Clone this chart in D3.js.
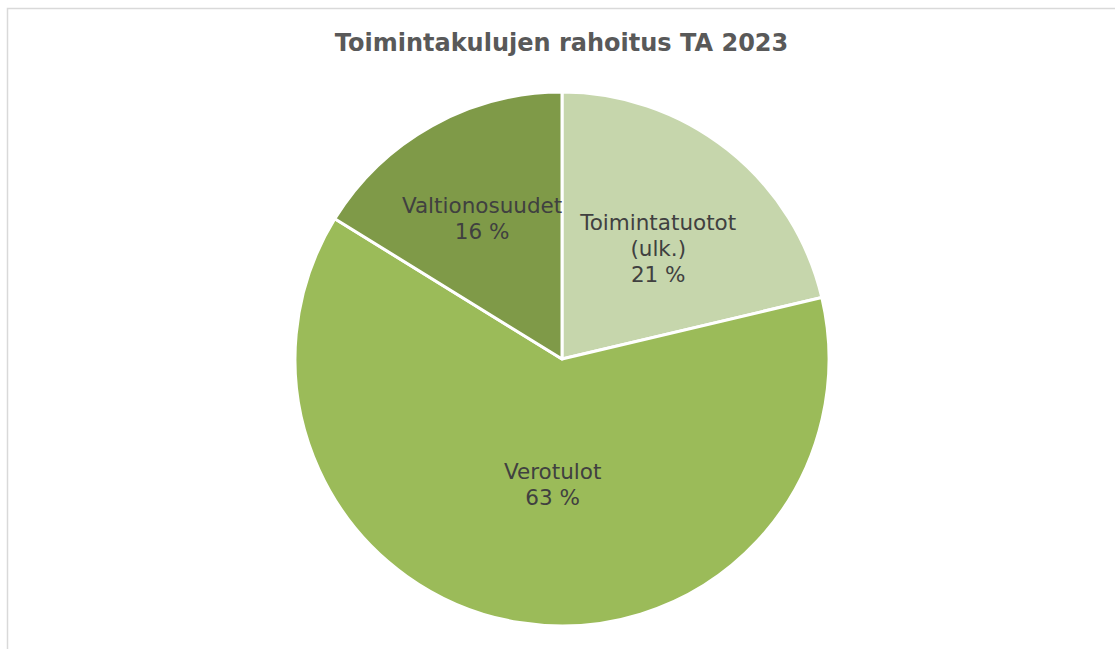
<!DOCTYPE html>
<html>
<head>
<meta charset="utf-8">
<script src="https://cdn.jsdelivr.net/npm/d3@7"></script>
<style>
  body { margin: 0; background: #fff; }
  svg { display: block; }
</style>
</head>
<body>
<div id="chart"></div>
<script>
const WIDTH = 1115;
const HEIGHT = 649;
const CX = 562;
const CY = 359;
const RADIUS = 267;

// data
const categories = ['Toimintatuotot (ulk.)', 'Verotulot', 'Valtionosuudet'];
const shares = [21.3, 62.5, 16.2];
const shareLabels = ['21 %', '63 %', '16 %'];
const labelLines = [['Toimintatuotot', '(ulk.)'], ['Verotulot'], ['Valtionosuudet']];

const colors = ['#c6d6ac', '#9bbb59', '#7f9a48'];
// label placement: share of radius, and angle nudge in degrees
const labelDist = [0.55, 0.471, 0.607];
const labelNudge = [2.6, -4.9, -0.4];

const rows = categories.map((c, i) => ({ name: c, value: shares[i], label: shareLabels[i], lines: labelLines[i], i }));

const svg = d3.select('#chart')
    .append('svg')
    .attr('width', WIDTH)
    .attr('height', HEIGHT);

// outer frame
svg.append('rect')
    .attr('x', 7.5)
    .attr('y', 8.5)
    .attr('width', WIDTH + 10)
    .attr('height', HEIGHT + 10)
    .attr('fill', 'none')
    .attr('stroke', '#d9d9d9')
    .attr('stroke-width', 1.5);

svg.append('text')
    .attr('x', 561.5)
    .attr('y', 51)
    .attr('text-anchor', 'middle')
    .attr('font-family', 'Verdana, "DejaVu Sans", sans-serif')
    .attr('font-weight', 'bold')
    .attr('font-size', 24)
    .attr('fill', '#595959')
    .text('Toimintakulujen rahoitus TA 2023');

const pie = d3.pie()
    .sort(null)
    .value(d => d.value);

const arc = d3.arc()
    .innerRadius(0)
    .outerRadius(RADIUS);

const g = svg.append('g')
    .attr('transform', `translate(${CX},${CY})`);

const arcs = pie(rows);

g.selectAll('path')
    .data(arcs)
    .enter()
    .append('path')
    .attr('d', arc)
    .attr('fill', d => colors[d.data.i])
    .attr('stroke', '#fff')
    .attr('stroke-width', 3)
    .attr('stroke-linejoin', 'round');

// labels
const FONT = 21.5;
const LINE_H = 26;
arcs.forEach(d => {
    const r = RADIUS * labelDist[d.data.i];
    const a = (d.startAngle + d.endAngle) / 2 + labelNudge[d.data.i] * Math.PI / 180;
    const pos = d3.arc().innerRadius(r).outerRadius(r).centroid({ startAngle: a, endAngle: a });
    const lines = d.data.lines.concat([d.data.label]);
    const t = g.append('text')
        .attr('text-anchor', 'middle')
        .attr('font-family', 'Verdana, "DejaVu Sans", sans-serif')
        .attr('font-size', FONT)
        .attr('fill', '#404040');
    const top = pos[1] - (lines.length - 1) * LINE_H / 2 + FONT * 0.35;
    lines.forEach((line, k) => {
        t.append('tspan')
            .attr('x', pos[0])
            .attr('y', top + k * LINE_H)
            .text(line);
    });
});
</script>
</body>
</html>
